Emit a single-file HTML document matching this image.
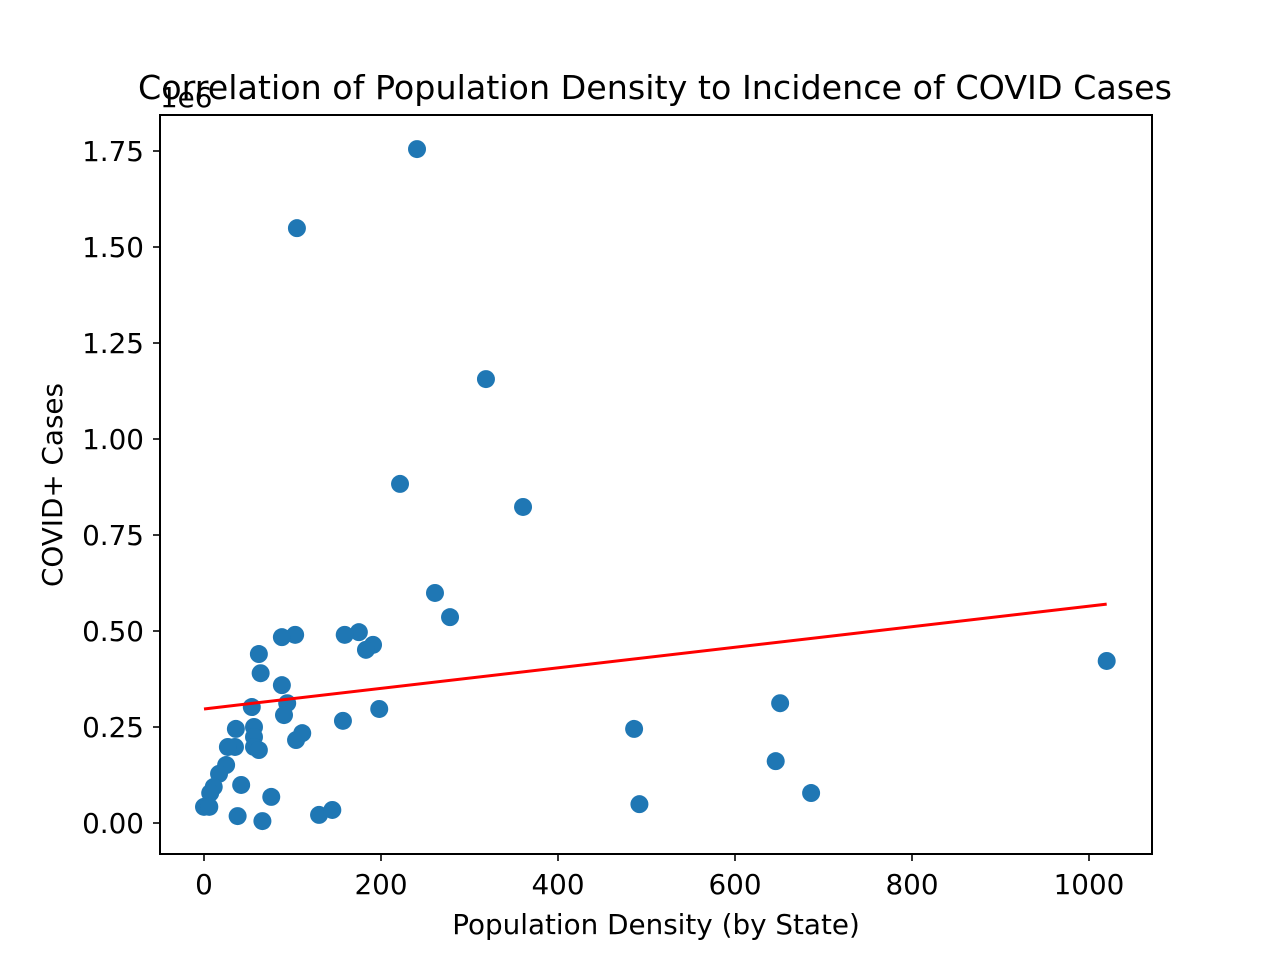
<!DOCTYPE html>
<html><head><meta charset="utf-8"><style>body{margin:0;background:#fff}svg{display:block}text{font-family:"DejaVu Sans","Liberation Sans",sans-serif;fill:#000}</style></head>
<body>
<svg id="chart" width="1280" height="960"></svg>
<script>
const densityX=[240.7,105,318.6,221.5,360.5,261,278,175,159,191,183,103,88,62,64,88,94,90.4,54,56.5,56.5,56.5,62,36,35,27,104,111,157,198,25,17,11,7,0,6,42,76,38,66,130,145,486,492,646,651,686,1020];
const casesY=[1.755,1.549,1.156,0.883,0.823,0.599,0.536,0.497,0.49,0.464,0.451,0.49,0.484,0.44,0.39,0.359,0.312,0.281,0.302,0.25,0.224,0.198,0.19,0.245,0.198,0.198,0.216,0.234,0.266,0.297,0.151,0.128,0.094,0.078,0.042,0.042,0.099,0.068,0.018,0.005,0.021,0.034,0.245,0.049,0.161,0.312,0.078,0.422];
const fitX=[0,1020];
const fitY=[0.297,0.570];
const xTicks=[0,200,400,600,800,1000];
const yTicks=[0,0.25,0.5,0.75,1.0,1.25,1.5,1.75];
const NS="http://www.w3.org/2000/svg";
const svg=document.getElementById('chart');
const L=160,R=1152,T=115,B=854;
const sx=v=>204+v*0.885;
const sy=v=>823-v*384;
function mk(tag,attrs,parent){const e=document.createElementNS(NS,tag);for(const k in attrs)e.setAttribute(k,attrs[k]);(parent||svg).appendChild(e);return e;}
densityX.forEach((x,i)=>{
 const c=mk('circle',{cx:sx(x),cy:sy(casesY[i]),r:9,fill:'#1f77b4'});
 
 
});
const fl=mk('line',{x1:sx(fitX[0]),y1:sy(fitY[0]),x2:sx(fitX[1]),y2:sy(fitY[1]),stroke:'#ff0000','stroke-width':3});


const fr=mk('rect',{x:L,y:T,width:R-L,height:B-T,fill:'none',stroke:'#000','stroke-width':2});


xTicks.forEach(v=>{
 const x=sx(v);
 const t=mk('line',{x1:x,y1:B,x2:x,y2:B+7,stroke:'#000','stroke-width':1.6});
 
 
 const l=mk('text',{x:x,y:894,'text-anchor':'middle','font-size':27.8});
 l.textContent=v;
 
 
});
yTicks.forEach(v=>{
 const y=sy(v);
 const t=mk('line',{x1:L-7,y1:y,x2:L,y2:y,stroke:'#000','stroke-width':1.6});
 
 
 const l=mk('text',{x:L-16,y:y+10,'text-anchor':'end','font-size':27.8});
 l.textContent=v.toFixed(2);
 
 
});
const off=mk('text',{x:160,y:107,'font-size':27.8});off.textContent='1e6';


const ti=mk('text',{x:655,y:99,'text-anchor':'middle','font-size':33,textLength:1034,lengthAdjust:'spacingAndGlyphs'});
ti.textContent='Correlation of Population Density to Incidence of COVID Cases';


const xt=mk('text',{x:656,y:934,'text-anchor':'middle','font-size':27.8});xt.textContent='Population Density (by State)';


const yt=mk('text',{x:0,y:0,'text-anchor':'middle','font-size':27.8,transform:'translate(62,485) rotate(-90)'});yt.textContent='COVID+ Cases';


</script>
</body></html>
